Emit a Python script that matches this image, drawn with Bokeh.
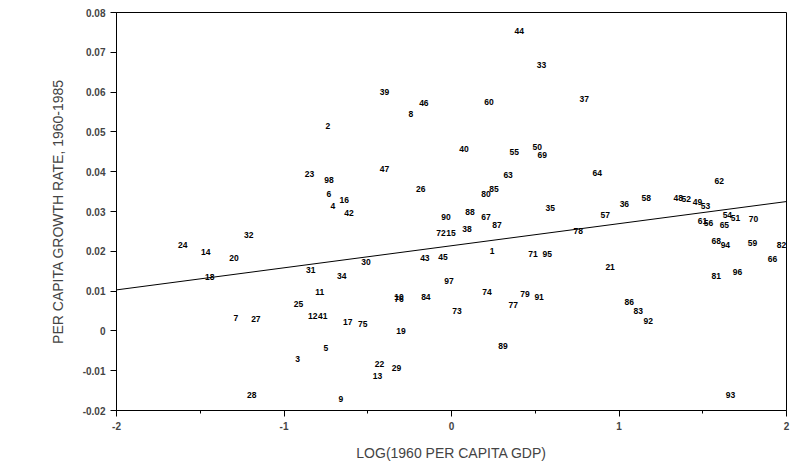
from bokeh.plotting import figure
from bokeh.models import ColumnDataSource, FixedTicker, Range1d
from bokeh.core.properties import value
from bokeh.embed import file_html
from bokeh.resources import INLINE

labels = ["44","33","39","46","60","37","8","2","50","55","69","40","47","23","63","98","64","6","26","62",
          "80","85","16","58","36","48","52","49","53","4","35","42","88","90","57","67","54","70","51","87",
          "61","65","56","38","72","15","78","32","68","94","59","82","24","14","1","20","71","95","30","43",
          "45","66","21","31","34","18","81","96","97","11","74","79","91","10","76","84","86","77","25","83",
          "73","12","41","7","27","92","17","75","19","5","89","3","22","29","13","28","9","93"]
log_gdp = [0.405,0.537,-0.40,-0.165,0.224,0.792,-0.242,-0.738,0.512,0.374,0.542,0.075,-0.40,-0.848,0.338,-0.732,0.870,-0.732,-0.183,1.599,
           0.206,0.254,-0.640,1.163,1.032,1.354,1.402,1.468,1.516,-0.708,0.589,-0.612,0.110,-0.033,0.918,0.206,1.647,1.803,1.695,0.272,
           1.498,1.629,1.534,0.092,-0.063,-0.003,0.756,-1.211,1.581,1.635,1.797,1.970,-1.605,-1.467,0.242,-1.299,0.487,0.571,-0.511,-0.159,
           -0.051,1.916,0.947,-0.840,-0.655,-1.444,1.581,1.707,-0.015,-0.787,0.212,0.439,0.523,-0.313,-0.313,-0.153,1.061,0.368,-0.913,1.115,
           0.033,-0.829,-0.769,-1.288,-1.168,1.175,-0.620,-0.530,-0.301,-0.750,0.308,-0.919,-0.430,-0.328,-0.442,-1.193,-0.661,1.665]
growth = [0.0754,0.0669,0.0600,0.0572,0.0575,0.0583,0.0545,0.0515,0.0462,0.0449,0.0441,0.0457,0.0408,0.0394,0.0391,0.0378,0.0396,0.0343,0.0356,0.0376,
          0.0343,0.0356,0.0330,0.0335,0.0320,0.0333,0.0331,0.0325,0.0315,0.0313,0.0308,0.0297,0.0298,0.0285,0.0290,0.0285,0.0292,0.0282,0.0283,0.0267,
          0.0275,0.0267,0.0272,0.0257,0.0247,0.0247,0.0252,0.0242,0.0226,0.0216,0.0222,0.0217,0.0217,0.0199,0.0202,0.0184,0.0192,0.0194,0.0174,0.0182,
          0.0186,0.0181,0.0161,0.0154,0.0138,0.0136,0.0138,0.0148,0.0126,0.0098,0.0098,0.0093,0.0085,0.0085,0.0080,0.0085,0.0073,0.0065,0.0068,0.0050,
          0.0050,0.0037,0.0037,0.0032,0.0030,0.0025,0.0022,0.0017,0.0000,-0.0043,-0.0038,-0.0071,-0.0084,-0.0094,-0.0114,-0.0162,-0.0172,-0.0162]
fit_intercept = 0.0214
fit_slope = 0.00555
fit_x = [-2.0, 2.0]
x_ticks = [-2, -1, 0, 1, 2]
y_ticks = [-0.02, -0.01, 0, 0.01, 0.02, 0.03, 0.04, 0.05, 0.06, 0.07, 0.08]
y_tick_labels = ["-0.02", "-0.01", "0", "0.01", "0.02", "0.03", "0.04", "0.05", "0.06", "0.07", "0.08"]

src = ColumnDataSource(dict(x=log_gdp, y=growth, t=labels))

p = figure(width=790, height=463, output_backend="svg", toolbar_location=None,
           x_range=Range1d(-2, 2), y_range=Range1d(-0.02, 0.08),
           min_border_left=116, min_border_right=4, min_border_top=12, min_border_bottom=50)
p.grid.visible = False
p.outline_line_color = "black"
p.outline_line_width = 1

p.line(fit_x, [fit_intercept + fit_slope * v for v in fit_x], line_color="black", line_width=1)
p.text("x", "y", text="t", source=src, text_align="center", text_baseline="middle",
       text_font=value("Liberation Sans"), text_font_size="8.5px", text_font_style="bold", text_color="black")

p.xaxis.ticker = FixedTicker(ticks=x_ticks, minor_ticks=[-1.5, -0.5, 0.5, 1.5])
p.yaxis.ticker = FixedTicker(ticks=y_ticks)
p.xaxis.major_label_overrides = {t: str(t) for t in x_ticks}
p.yaxis.major_label_overrides = dict(zip(y_ticks, y_tick_labels))
for ax in (p.xaxis[0], p.yaxis[0]):
    ax.major_label_text_font = "Liberation Sans"
    ax.major_label_text_font_size = "10px"
    ax.major_label_text_font_style = "bold"
    ax.axis_label_text_font = "Liberation Sans"
    ax.axis_label_text_font_size = "14px"
    ax.axis_label_text_font_style = "normal"
    ax.major_tick_out = 6
    ax.major_tick_in = 0
    ax.minor_tick_out = 0
    ax.minor_tick_in = 0
p.xaxis.minor_tick_out = 3
p.xaxis.axis_label = "LOG(1960 PER CAPITA GDP)"
p.yaxis.axis_label = "PER CAPITA GROWTH RATE, 1960-1985"
p.xaxis.axis_label_standoff = 12
p.yaxis.axis_label_standoff = 14

open("out.html", "w").write(file_html(p, INLINE))
